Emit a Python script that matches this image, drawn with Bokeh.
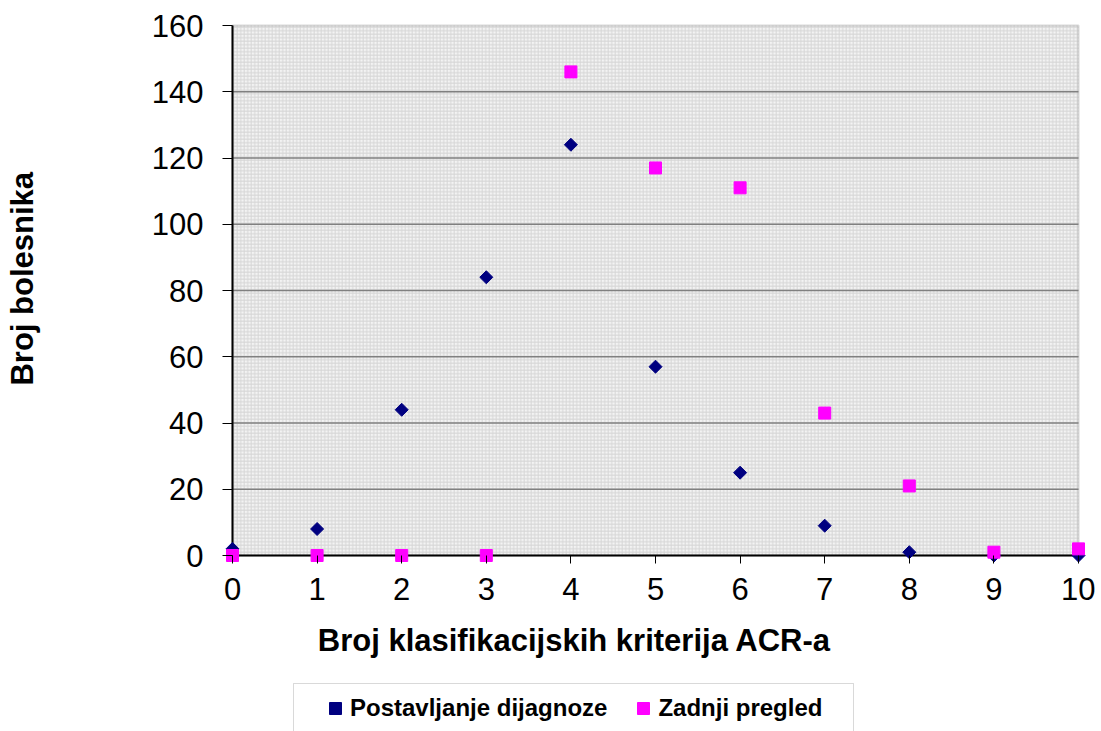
import math
from bokeh.plotting import figure
from bokeh.models import (FixedTicker, Range1d, BoxAnnotation, Legend,
                          LegendItem, ColumnDataSource, Label)
from bokeh.embed import file_html
from bokeh.resources import INLINE

# ---- data ----
criteria = [0, 1, 2, 3, 4, 5, 6, 7, 8, 9, 10]
postavljanje_dijagnoze = [2, 8, 44, 84, 124, 57, 25, 9, 1, 0, 0]
zadnji_pregled = [0, 0, 0, 0, 146, 117, 111, 43, 21, 1, 2]
y_ticks = [0, 20, 40, 60, 80, 100, 120, 140, 160]
x_ticks = criteria
series_names = ["Postavljanje dijagnoze", "Zadnji pregled"]
x_title = "Broj klasifikacijskih kriterija ACR-a"
y_title = "Broj bolesnika"

FONT = "Liberation Sans"
x0, x1 = min(criteria), max(criteria)
y0, y1 = min(y_ticks), max(y_ticks)

# frame covers the plot area plus the space below it (x labels, title, legend)
p = figure(frame_width=873, frame_height=716, output_backend="svg", toolbar_location=None,
           x_range=Range1d(-0.1182, 10.2009), y_range=Range1d(-53.132, 163.019),
           min_border_left=222, min_border_right=0, min_border_top=15,
           min_border_bottom=0)
p.outline_line_color = None
p.background_fill_color = "white"
p.border_fill_color = "white"
p.xgrid.grid_line_color = None
p.ygrid.grid_line_color = None

# plot area background with fine pattern
bg = BoxAnnotation(left=x0, right=x1, bottom=y0, top=y1,
                   fill_color="#f3f3f3", fill_alpha=1.0,
                   hatch_pattern="+", hatch_scale=3.5, hatch_weight=1,
                   hatch_color="#d6d6d6", hatch_alpha=1.0,
                   line_color="#808080", line_width=2, level="underlay")
p.add_layout(bg)

# major horizontal gridlines
gl = ColumnDataSource(dict(y=y_ticks[1:-1],
                           x0=[x0] * (len(y_ticks) - 2),
                           x1=[x1] * (len(y_ticks) - 2)))
p.segment(x0="x0", x1="x1", y0="y", y1="y", source=gl,
          line_color="#808080", line_width=1.5)

# axis lines (left and bottom edges of the plot area)
p.segment(x0=[x0, x0], y0=[y0, y0], x1=[x0, x1], y1=[y1, y0],
          line_color="black", line_width=2)

for ax in (p.xaxis[0], p.yaxis[0]):
    ax.axis_line_color = None
    ax.major_tick_line_color = "black"
    ax.major_tick_line_width = 1
    ax.minor_tick_line_color = None
    ax.major_label_text_font = FONT
    ax.major_label_text_font_size = "31px"
    ax.major_label_text_color = "black"

# x axis drawn at y = 0
xa = p.xaxis[0]
xa.fixed_location = 0
xa.ticker = FixedTicker(ticks=x_ticks)
xa.major_tick_in = 0
xa.major_tick_out = 8
xa.major_label_standoff = 14

# y axis at the frame edge, ticks reaching the plot area
ya = p.yaxis[0]
ya.ticker = FixedTicker(ticks=y_ticks)
ya.major_tick_in = 10
ya.major_tick_out = 0
ya.major_label_standoff = 19
# leading no-break spaces move the centred title up to the plot area's middle
ya.axis_label = "\u00a0" * 22 + y_title
ya.axis_label_text_font = FONT
ya.axis_label_text_font_size = "31px"
ya.axis_label_text_font_style = "bold"
ya.axis_label_text_color = "black"
ya.axis_label_standoff = 109

# series
r1 = p.scatter(criteria, postavljanje_dijagnoze, marker="square", angle=math.pi / 4,
               size=9.2, fill_color="#000080", line_color="#000080")
r2 = p.scatter(criteria, zadnji_pregled, marker="square", size=12,
               fill_color="#FF00FF", line_color="#FF00FF")

# x axis title
p.add_layout(Label(x=352, y=91, x_units="screen", y_units="screen", text=x_title,
                   text_align="center", text_baseline="alphabetic",
                   text_font=FONT, text_font_size="31px", text_font_style="bold",
                   text_color="black"))

# legend frame
p.add_layout(BoxAnnotation(left=71, right=631, top=48, bottom=-10,
                           left_units="screen", right_units="screen",
                           top_units="screen", bottom_units="screen",
                           fill_color="white", fill_alpha=1.0,
                           line_color="#808080", line_width=1, level="annotation"))

legend = Legend(items=[LegendItem(label=series_names[0], renderers=[r1]),
                       LegendItem(label=series_names[1], renderers=[r2])],
                orientation="horizontal", location=(98, 8), padding=0, margin=0,
                spacing=21, glyph_width=30, glyph_height=30, label_standoff=0,
                label_text_font=FONT, label_text_font_style="bold",
                label_text_font_size="24px", label_text_color="black",
                border_line_alpha=0, background_fill_alpha=0)
p.add_layout(legend)

open("out.html", "w").write(file_html(p, INLINE))
